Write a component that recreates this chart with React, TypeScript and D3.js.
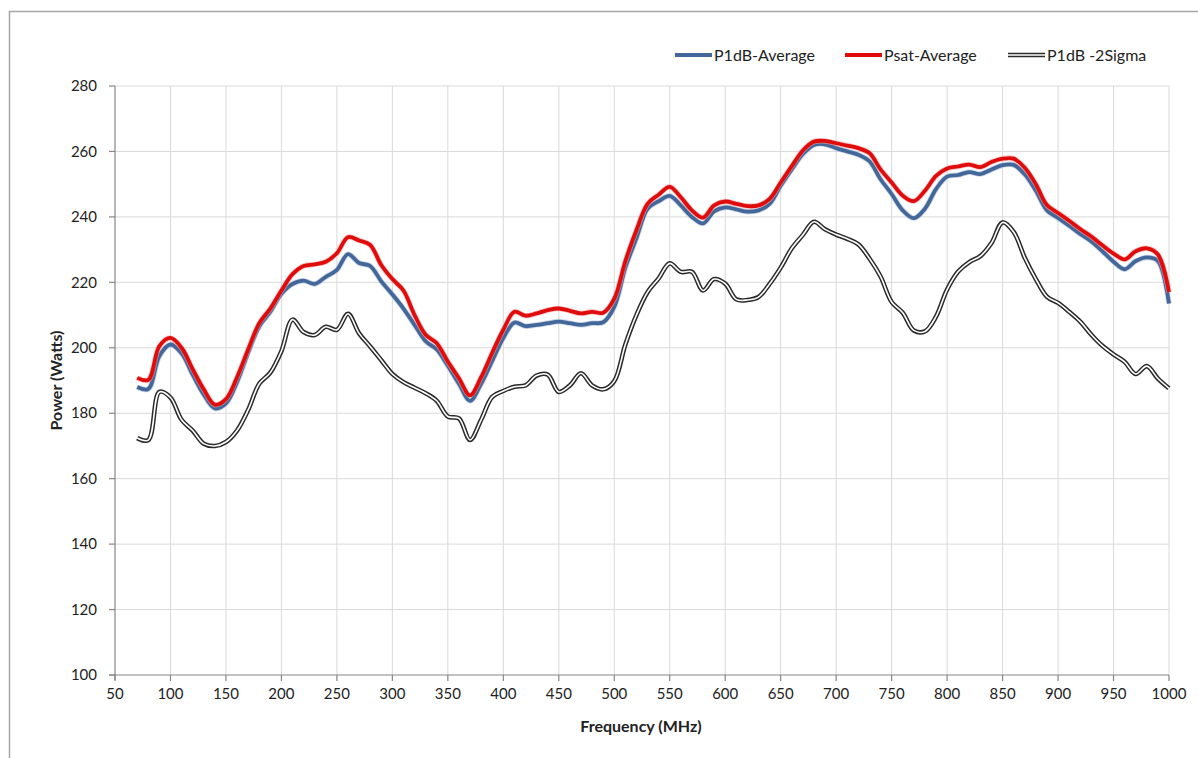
import React from 'react';
import * as d3 from 'd3';

// frequency samples (MHz)
const freqs = [
  70, 80, 90, 100, 110, 120, 130, 140, 150, 160, 170, 180, 190, 200, 210, 220, 230, 240, 250, 260,
  270, 280, 290, 300, 310, 320, 330, 340, 350, 360, 370, 380, 390, 400, 410, 420, 430, 440, 450, 460,
  470, 480, 490, 500, 510, 520, 530, 540, 550, 560, 570, 580, 590, 600, 610, 620, 630, 640, 650, 660,
  670, 680, 690, 700, 710, 720, 730, 740, 750, 760, 770, 780, 790, 800, 810, 820, 830, 840, 850, 860,
  870, 880, 890, 900, 910, 920, 930, 940, 950, 960, 970, 980, 990, 1000,
];

const p1dbAverage = [
  188.0, 187.4, 197.5, 201.0, 198.3, 191.8, 185.7, 181.5, 183.0, 189.5, 198.5, 206.5, 211.0, 216.5, 219.5, 220.5, 219.5, 221.7, 223.8, 228.6,
  225.9, 225.0, 220.3, 216.3, 212.0, 207.0, 202.0, 199.5, 194.5, 189.0, 183.8, 189.0, 196.0, 203.0, 207.7, 206.6, 207.0, 207.5, 208.0, 207.5,
  207.0, 207.5, 207.8, 212.5, 224.5, 233.5, 242.5, 244.8, 246.4, 243.5, 240.0, 238.0, 241.7, 242.9, 242.3, 241.6, 242.0, 244.0, 249.5, 254.5,
  259.2, 262.0, 262.2, 261.0, 260.0, 259.0, 257.0, 251.5, 247.0, 242.0, 239.6, 242.5, 248.5, 252.3, 252.8, 253.7, 253.1, 254.5, 255.8, 255.9,
  253.0, 248.0, 242.0, 239.7, 237.3, 234.8, 232.5, 229.5, 226.3, 224.0, 226.5, 227.6, 226.5, 213.5,
];

const psatAverage = [
  190.8, 190.2, 200.5, 203.0, 200.0, 193.5, 187.3, 182.6, 184.3, 191.0, 199.5, 207.5, 212.0, 217.5, 222.5, 225.0, 225.5, 226.3, 228.9, 233.8,
  232.8, 231.4, 225.3, 221.0, 217.5, 210.0, 204.0, 201.4, 195.8, 190.7, 185.5, 191.0, 198.5, 205.5, 211.0, 209.8, 210.5, 211.5, 212.0, 211.3,
  210.5, 211.0, 210.7, 215.0, 226.5, 236.0, 244.0, 246.8, 249.2, 246.0, 242.0, 239.8, 243.5, 244.7, 244.0, 243.3, 243.5, 245.5, 250.5, 255.5,
  260.3, 263.0, 263.2, 262.5, 261.8, 261.0, 259.5, 254.5, 250.5, 246.5, 244.8, 248.0, 252.5, 254.8, 255.4, 256.0, 255.2, 256.8, 257.8, 257.8,
  255.0, 250.0, 243.6, 241.2, 238.8, 236.3, 234.0, 231.3, 228.8, 227.0, 229.5, 230.4, 228.5, 217.0,
];

const p1db2Sigma = [
  172.4, 171.8, 186.5, 184.8, 178.0, 174.7, 170.7, 170.0, 171.2, 174.7, 181.0, 189.0, 192.4, 199.0, 208.6, 204.8, 203.9, 206.4, 205.5, 210.4,
  204.4, 200.4, 196.2, 192.0, 189.5, 187.8, 186.1, 183.8, 179.0, 178.4, 171.8, 178.0, 185.0, 186.8, 188.1, 188.5, 191.5, 191.8, 186.5, 188.5,
  192.2, 188.5, 187.3, 189.8, 201.0, 210.0, 217.0, 221.2, 225.8, 223.2, 223.2, 217.5, 221.0, 219.6, 214.8, 214.6, 215.5, 219.5, 224.5, 230.4,
  234.5, 238.5, 236.2, 234.6, 233.3, 231.6, 227.3, 221.8, 214.0, 210.7, 205.3, 205.0, 209.5, 217.8, 223.3, 226.2, 228.0, 232.0, 238.3, 235.4,
  227.5, 221.0, 215.6, 213.7, 211.0, 208.0, 204.0, 200.6, 198.0, 195.7, 192.0, 194.4, 190.6, 187.6,
];

const xTicks = d3.range(50, 1001, 50);
const yTicks = d3.range(100, 281, 20);

const W = 1198;
const H = 758;
const plot = { left: 115, right: 1169, top: 86, bottom: 675 };
const font = 'Lato, "Open Sans", sans-serif';

export default function App() {
  const x = d3.scaleLinear().domain([50, 1000]).range([plot.left, plot.right]);
  const y = d3.scaleLinear().domain([100, 280]).range([plot.bottom, plot.top]);

  const line = (vals: number[]) =>
    d3
      .line<number>()
      .x((_, i) => x(freqs[i]))
      .y((d) => y(d))
      .curve(d3.curveCatmullRom.alpha(0.5))(vals) || '';

  const legend = [
    { label: 'P1dB-Average', x0: 675, kind: 'blue' },
    { label: 'Psat-Average', x0: 845, kind: 'red' },
    { label: 'P1dB -2Sigma', x0: 1008, kind: 'double' },
  ];

  return (
    <svg
      width={W}
      height={H}
      style={{ position: 'absolute', left: 0, top: 0, background: '#fff' }}
      fontFamily={font}
    >
      <rect x={9.5} y={11.5} width={W + 20} height={H + 20} fill="#fff" stroke="#a6a6a6" strokeWidth={1.5} />

      {/* grid */}
      <g stroke="#d9d9d9" strokeWidth={1}>
        {yTicks.slice(1).map((t) => (
          <line key={'gy' + t} x1={plot.left} x2={plot.right} y1={y(t)} y2={y(t)} />
        ))}
        {xTicks.slice(1).map((t) => (
          <line key={'gx' + t} x1={x(t)} x2={x(t)} y1={plot.top} y2={plot.bottom} />
        ))}
      </g>

      {/* axes */}
      <g stroke="#868686" strokeWidth={1.2}>
        <line x1={plot.left} x2={plot.left} y1={plot.top} y2={plot.bottom + 5} />
        <line x1={plot.left - 6} x2={plot.right} y1={plot.bottom} y2={plot.bottom} />
        {yTicks.map((t) => (
          <line key={'ty' + t} x1={plot.left - 6} x2={plot.left} y1={y(t)} y2={y(t)} />
        ))}
        {xTicks.map((t) => (
          <line key={'tx' + t} x1={x(t)} x2={x(t)} y1={plot.bottom} y2={plot.bottom + 6} />
        ))}
      </g>

      <g fontSize={15} fill="#222">
        {yTicks.map((t) => (
          <text key={'ly' + t} x={plot.left - 18} y={y(t)} dy="0.35em" textAnchor="end">
            {t}
          </text>
        ))}
        {xTicks.map((t) => (
          <text key={'lx' + t} x={x(t)} y={plot.bottom + 24} textAnchor="middle">
            {t}
          </text>
        ))}
      </g>

      <text x={641} y={732} textAnchor="middle" fontSize={16} fontWeight="bold" fill="#222">
        Frequency (MHz)
      </text>
      <text
        transform={`translate(62,${(plot.top + plot.bottom) / 2}) rotate(-90)`}
        textAnchor="middle"
        fontSize={16}
        fontWeight="bold"
        fill="#222"
      >
        Power (Watts)
      </text>

      {/* series */}
      <path d={line(p1dbAverage)} fill="none" stroke="#a9bcd8" strokeWidth={5.5} strokeLinejoin="round" opacity={0.6} />
      <path d={line(p1dbAverage)} fill="none" stroke="#436799" strokeWidth={3.8} strokeLinejoin="round" />
      <path d={line(psatAverage)} fill="none" stroke="#f3a0a0" strokeWidth={5.5} strokeLinejoin="round" opacity={0.6} />
      <path d={line(psatAverage)} fill="none" stroke="#e00b0b" strokeWidth={3.8} strokeLinejoin="round" />
      <path d={line(p1db2Sigma)} fill="none" stroke="#2b2b2b" strokeWidth={4.6} strokeLinejoin="round" />
      <path d={line(p1db2Sigma)} fill="none" stroke="#fff" strokeWidth={1.6} strokeLinejoin="round" />

      {/* legend */}
      {legend.map((l) => (
        <g key={l.label}>
          {l.kind === 'double' ? (
            <>
              <line x1={l.x0} x2={l.x0 + 37} y1={55} y2={55} stroke="#2b2b2b" strokeWidth={4.6} />
              <line x1={l.x0} x2={l.x0 + 37} y1={55} y2={55} stroke="#fff" strokeWidth={1.6} />
            </>
          ) : (
            <line
              x1={l.x0}
              x2={l.x0 + 37}
              y1={55}
              y2={55}
              stroke={l.kind === 'blue' ? '#436799' : '#e00b0b'}
              strokeWidth={3.8}
            />
          )}
          <text x={l.x0 + 39} y={55} dy="0.35em" fontSize={16} fill="#222">
            {l.label}
          </text>
        </g>
      ))}
    </svg>
  );
}
